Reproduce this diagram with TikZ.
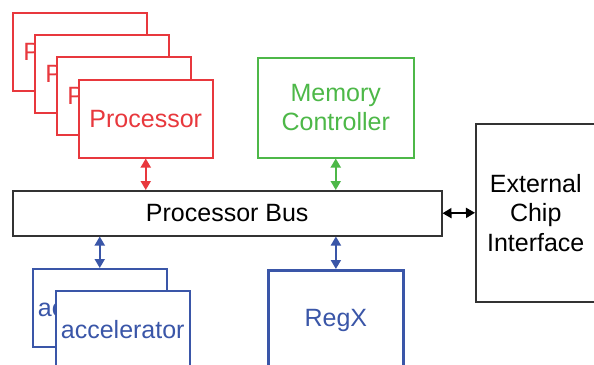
\documentclass[tikz,border=0pt]{standalone}
\usepackage{fontspec}
\setmainfont{Liberation Sans}
\usetikzlibrary{arrows.meta}
\definecolor{pred}{HTML}{E8383D}
\definecolor{mgreen}{HTML}{4DB848}
\definecolor{ablue}{HTML}{3A56A8}
\definecolor{busgray}{HTML}{333333}
\tikzset{
  blk/.style={draw, fill=white, line width=1.5pt, anchor=north west, inner sep=0pt,
    font=\fontsize{25}{29.5}\selectfont, align=center},
  procbox/.style={blk, draw=pred, text=pred, minimum width=134pt, minimum height=78pt},
  accbox/.style={blk, draw=ablue, text=ablue, minimum width=134pt, minimum height=78pt},
  arr/.style={{Triangle[length=9pt,width=10pt]}-{Triangle[length=9pt,width=10pt]}, line width=1.8pt},
}
\begin{document}
\begin{tikzpicture}[x=1pt,y=-1pt]
\clip (0,0) rectangle (594,364);
\fill[white] (0,0) rectangle (594,364);
% processors
\node[procbox] (p1) at (12,12) {Processor};
\node[procbox] (p2) at (34,34) {Processor};
\node[procbox] (p3) at (56,56) {Processor};
\node[procbox] (p4) at (78,79) {Processor};
% memory controller
\node[blk, draw=mgreen, text=mgreen, minimum width=156pt, minimum height=100pt] (mem) at (257,57) {Memory\\Controller};
% bus
\node[blk, draw=busgray, text=black, minimum width=429pt, minimum height=45pt] (bus) at (12,190) {Processor Bus};
% external
\node[blk, draw=busgray, text=black, minimum width=120pt, minimum height=178pt] (ext) at (475,123) {External\\Chip\\Interface};
% accelerators
\node[accbox] (a1) at (32,268) {accelerator};
\node[accbox] (a2) at (55,290) {accelerator};
% RegX
\node[blk, draw=ablue, text=ablue, line width=2.8pt, minimum width=135pt, minimum height=100pt] (regx) at (267,269) {RegX};
% connectors
\draw[arr, pred] (p4.south) -- (p4.south |- bus.north);
\draw[arr, mgreen] (mem.south) -- (mem.south |- bus.north);
\draw[arr, black] (bus.east) -- (ext.west);
\draw[arr, ablue] (bus.south -| a1.north) -- (a1.north);
\draw[arr, ablue] (bus.south -| regx.north) -- (regx.north);
\end{tikzpicture}
\end{document}
